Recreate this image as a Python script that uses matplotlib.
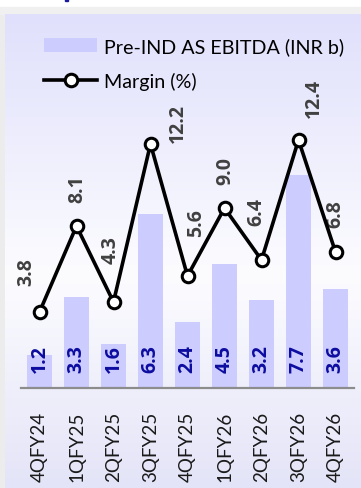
import numpy as np
import matplotlib.pyplot as plt
from matplotlib.patches import Patch
from matplotlib.lines import Line2D

plt.rcParams['font.family'] = ['Lato', 'DejaVu Sans']

quarters = ['4QFY24', '1QFY25', '2QFY25', '3QFY25', '4QFY25',
            '1QFY26', '2QFY26', '3QFY26', '4QFY26']
ebitda = [1.2, 3.3, 1.6, 6.3, 2.4, 4.5, 3.2, 7.7, 3.6]
margin = [3.8, 8.1, 4.3, 12.2, 5.6, 9.0, 6.4, 12.4, 6.8]
# hand placed label offsets (pixels) relative to each marker, like the source
lbl_dx = [-13, 1, -3, 27, 9, 1, -5, 15, 0]
lbl_dy = [41, 38, 53, 22, 54, 38, 49, 43, 39]

W, H = 361, 489
fig = plt.figure(figsize=(W / 100, H / 100), dpi=100)
bold_font = ['Open Sans', 'DejaVu Sans']

# background: shadowed panel with a vertical lavender-white-lavender gradient
bg = fig.add_axes([0, 0, 1, 1])
bg.set_axis_off()
bg.set_xlim(0, W)
bg.set_ylim(H, 0)
top_c = np.array([224, 224, 252]) / 255
mid_c = np.array([252, 252, 255]) / 255
bot_c = np.array([228, 228, 248]) / 255
t = np.linspace(0, 1, 300)[:, None]
grad = np.where(t < 0.55, top_c + (mid_c - top_c) * (t / 0.55),
                mid_c + (bot_c - mid_c) * ((t - 0.55) / 0.45))
bg.imshow(grad[:, None, :], extent=[5, W, H, 15], aspect='auto', zorder=1)
bg.add_patch(plt.Rectangle((0, 10), 5, H, color='#ececec', zorder=0))
bg.add_patch(plt.Rectangle((0, 8), W, 7, color='#f0f0f0', zorder=0))
bg.add_patch(plt.Rectangle((65, 0), 3, 2, color='#1a1aa0', zorder=2))

left, right = 21 / W, 354 / W
bottom, top = (H - 389) / H, (H - 30) / H
ax = fig.add_axes([left, bottom, right - left, top - bottom])
ax.patch.set_alpha(0)
x = np.arange(len(quarters))
ax.bar(x, ebitda, width=0.67, color='#ccccff', zorder=2)
ax.set_xlim(-0.5, len(quarters) - 0.5)
ax.set_ylim(0, 359 / 27.6)
for s in ['top', 'right', 'left']:
    ax.spines[s].set_visible(False)
ax.spines['bottom'].set_color('#8c8c8c')
ax.spines['bottom'].set_linewidth(1.6)
ax.set_yticks([])
ax.set_xticks(x)
ax.set_xticklabels(quarters, rotation=90, fontsize=13.5, color='#1a1a1a', va='top')
ax.tick_params(axis='x', length=0, pad=16.5)

for i, v in enumerate(ebitda):
    ax.annotate(f'{v:.1f}', (i, 0), xytext=(0, 16), textcoords='offset pixels',
                rotation=90, ha='center', va='bottom', fontsize=14,
                fontweight='bold', family=bold_font, color='#0c0ca0', zorder=5)

ax2 = ax.twinx()
ax2.set_ylim(0, 359 / 20.0)
ax2.set_yticks([])
for s in ax2.spines.values():
    s.set_visible(False)
ax2.plot(x, margin, color='black', lw=2.6, marker='o', ms=9,
         mfc='white', mec='black', mew=2.2, zorder=4)
for i, v in enumerate(margin):
    ax2.annotate(f'{v:.1f}', (i, v), xytext=(lbl_dx[i], lbl_dy[i]),
                 textcoords='offset pixels', rotation=90, ha='center',
                 va='center', fontsize=14, fontweight='bold',
                 family=bold_font, color='#404040')

handles = [Patch(facecolor='#ccccff', edgecolor='none'),
           Line2D([], [], color='black', lw=2.6, marker='o', ms=9,
                  mfc='white', mec='black', mew=2.2)]
ax2.legend(handles, ['Pre-IND AS EBITDA (INR b)', 'Margin (%)'],
           loc='upper left', bbox_to_anchor=(44 / W, 1 - 38 / H),
           bbox_transform=fig.transFigure, frameon=False, fontsize=14.2,
           handlelength=2.7, handletextpad=0.35, labelspacing=0.85,
           borderpad=0, borderaxespad=0)

fig.savefig('out.png', dpi=100)
